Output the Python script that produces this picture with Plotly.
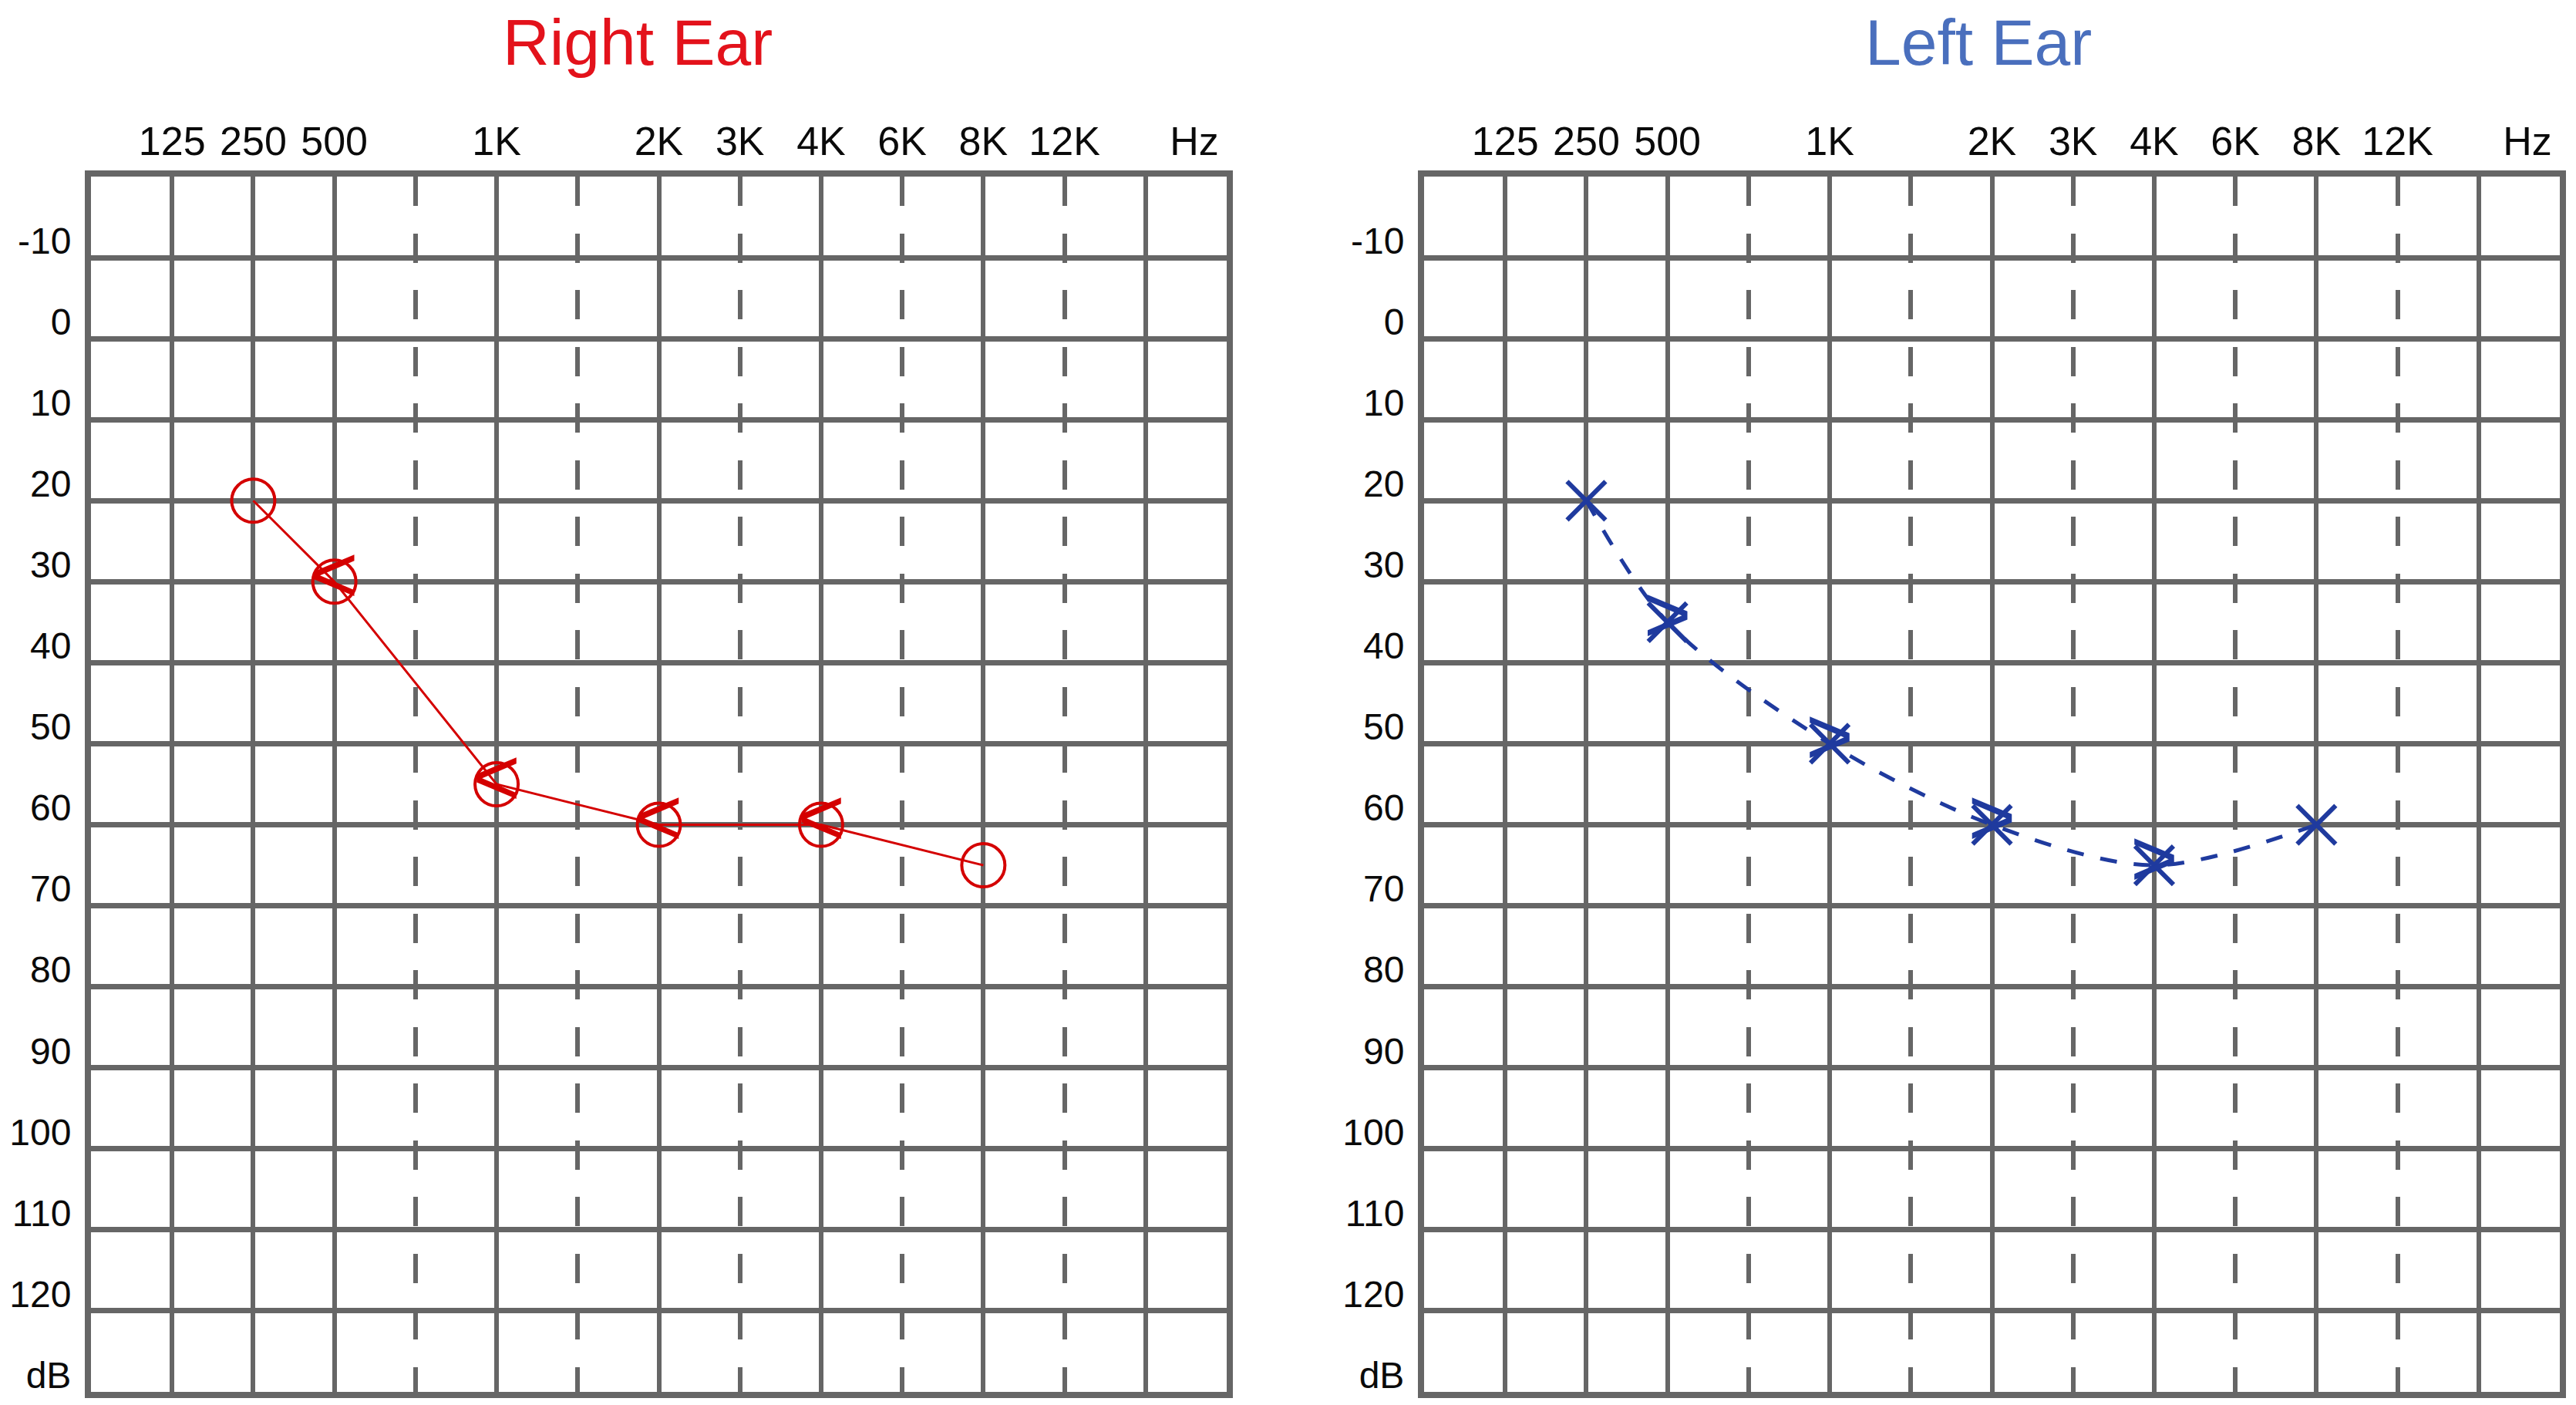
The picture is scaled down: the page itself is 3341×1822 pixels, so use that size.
import plotly.graph_objects as go

# ---------------- data ----------------
# audiogram columns (frequency tick positions 1..12 on the chart)
COLUMNS = ["125", "250", "500", "750", "1K", "1.5K", "2K", "3K", "4K", "6K", "8K", "12K"]
DASHED_COLUMNS = ["750", "1.5K", "3K", "6K", "12K"]
TOP_LABELS = ["125", "250", "500", "1K", "2K", "3K", "4K", "6K", "8K", "12K"]
UNIT_LABEL = "Hz"

DB_TICKS = [-10, 0, 10, 20, 30, 40, 50, 60, 70, 80, 90, 100, 110, 120]
DB_LABELS = ["-10", "0", "10", "20", "30", "40", "50", "60", "70", "80", "90", "100", "110", "120"]
DB_UNIT = "dB"

FREQS = ["250", "500", "1K", "2K", "4K", "8K"]
RIGHT_DB = [20, 30, 55, 60, 60, 65]
LEFT_DB = [20, 35, 50, 60, 65, 60]
BONE = [False, True, True, True, True, False]   # bone-conduction symbol overlaid

# ---------------- helpers ----------------
def col(label):
    return COLUMNS.index(label) + 1

N_COLS = len(COLUMNS) + 2          # extra unlabeled column + Hz column
X_RANGE = [0, N_COLS]
Y_RANGE = [130, -20]

solid_cols = [col(c) for c in COLUMNS if c not in DASHED_COLUMNS] + [len(COLUMNS) + 1]
dashed_cols = [col(c) for c in DASHED_COLUMNS]
label_pos = [col(c) for c in TOP_LABELS] + [len(COLUMNS) + 1.6]
label_text = TOP_LABELS + [UNIT_LABEL]
y_vals = DB_TICKS + [130]
y_text = DB_LABELS + [DB_UNIT]

# page is 3341x1822; the browser body keeps an 8px margin around the figure
PAGE_W, PAGE_H, BODY = 3341, 1822, 8
W, H = PAGE_W - 2 * BODY, PAGE_H - 2 * BODY

def px_x(v):          # page pixel -> paper fraction
    return (v - BODY) / W

def px_y(v):
    return 1 - (v - BODY) / H

GRID = "#666666"
FONT = "Liberation Sans, Arial, Helvetica, sans-serif"
RED = "#d40000"
NAVY = "#1f3a9e"
SYM_FONT = "Liberation Sans, Arial, sans-serif"

right_x = [col(f) for f in FREQS]
left_x = [col(f) for f in FREQS]

fig = go.Figure()

# Right ear
fig.add_trace(go.Scatter(
    x=right_x, y=RIGHT_DB, mode="lines+markers", xaxis="x", yaxis="y",
    line=dict(color=RED, width=3),
    marker=dict(symbol="circle-open", size=56, color=RED, line=dict(width=4, color=RED)),
    hoverinfo="skip"))
fig.add_trace(go.Scatter(
    x=[x for x, b in zip(right_x, BONE) if b],
    y=[v for v, b in zip(RIGHT_DB, BONE) if b],
    mode="text", text=["<"] * sum(BONE), xaxis="x", yaxis="y",
    textposition="middle center",
    textfont=dict(family=SYM_FONT, size=106, color=RED),
    hoverinfo="skip"))
fig.add_trace(go.Scatter(x=[None], y=[None], xaxis="x3", yaxis="y", mode="markers",
                         hoverinfo="skip"))

# Left ear
fig.add_trace(go.Scatter(
    x=left_x, y=LEFT_DB, mode="lines+markers", xaxis="x2", yaxis="y2",
    line=dict(color=NAVY, width=5, dash="22px,22px", shape="spline", smoothing=0.9),
    marker=dict(symbol="x-thin-open", size=50, color=NAVY, line=dict(width=6, color=NAVY)),
    hoverinfo="skip"))
fig.add_trace(go.Scatter(
    x=[x for x, b in zip(left_x, BONE) if b],
    y=[v for v, b in zip(LEFT_DB, BONE) if b],
    mode="text", text=[">"] * sum(BONE), xaxis="x2", yaxis="y2",
    textposition="middle center",
    textfont=dict(family=SYM_FONT, size=106, color=NAVY),
    hoverinfo="skip"))
fig.add_trace(go.Scatter(x=[None], y=[None], xaxis="x4", yaxis="y2", mode="markers",
                         hoverinfo="skip"))

y_dom = [px_y(1805), px_y(229)]
right_dom = [px_x(118), px_x(1591)]
left_dom = [px_x(1847), px_x(3320)]

def grid_x(domain, anchor):
    return dict(
        domain=domain, anchor=anchor, range=X_RANGE, tickmode="array", tickvals=solid_cols,
        showticklabels=False, ticks="", showgrid=True, gridcolor=GRID, gridwidth=6,
        minor=dict(tickmode="array", tickvals=dashed_cols, showgrid=True, gridcolor=GRID,
                   gridwidth=6, griddash="38px,35.5px", ticks=""),
        showline=True, mirror=True, linecolor=GRID, linewidth=8, zeroline=False,
        automargin=False, fixedrange=True)

def label_x(over, anchor):
    return dict(
        overlaying=over, anchor=anchor, side="top", range=X_RANGE, tickmode="array",
        tickvals=label_pos, ticktext=label_text, showgrid=False, zeroline=False,
        showline=False, ticks="", ticklabelstandoff=17, automargin=False,
        tickfont=dict(family=FONT, size=52, color="#0a0a0a"), fixedrange=True)

def grid_y(anchor):
    return dict(
        domain=y_dom, anchor=anchor, range=Y_RANGE, tickmode="array", tickvals=y_vals,
        ticktext=y_text, showgrid=True, gridcolor=GRID, gridwidth=7, ticks="",
        showline=True, mirror=True, linecolor=GRID, linewidth=8, zeroline=False,
        ticklabelshift=22, ticklabelstandoff=8, automargin=False,
        tickfont=dict(family=FONT, size=48, color="#0a0a0a"), fixedrange=True)

fig.update_layout(
    width=W, height=H, margin=dict(l=0, r=0, t=0, b=0, autoexpand=False),
    paper_bgcolor="white", plot_bgcolor="white", showlegend=False,
    xaxis=grid_x(right_dom, "y"), yaxis=grid_y("x"),
    xaxis2=grid_x(left_dom, "y2"), yaxis2=grid_y("x2"),
    xaxis3=label_x("x", "y"), xaxis4=label_x("x2", "y2"),
    annotations=[
        dict(text="Right Ear", x=px_x(827), y=px_y(55), xref="paper", yref="paper",
             xanchor="center", yanchor="middle", showarrow=False,
             font=dict(family=FONT, size=84, color="#e3121b")),
        dict(text="Left Ear", x=px_x(2566), y=px_y(55), xref="paper", yref="paper",
             xanchor="center", yanchor="middle", showarrow=False,
             font=dict(family=FONT, size=84, color="#4a6fbd")),
    ],
)

fig.write_html("out.html")
